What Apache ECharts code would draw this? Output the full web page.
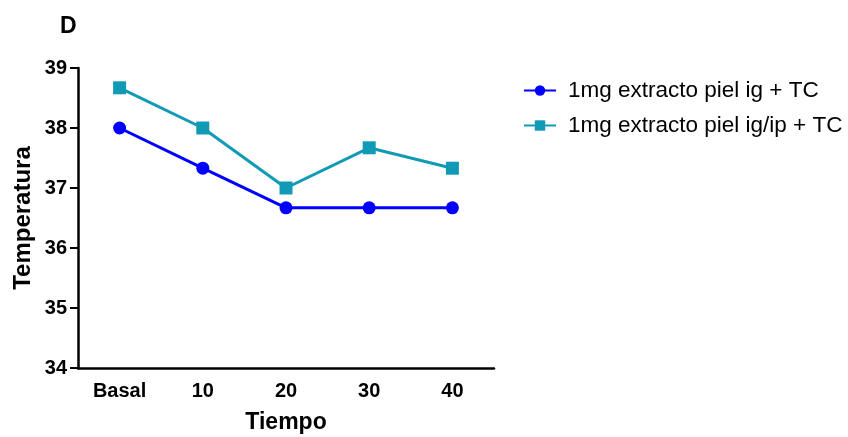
<!DOCTYPE html>
<html><head><meta charset="utf-8">
<script src="https://cdn.jsdelivr.net/npm/echarts@6/dist/echarts.min.js"></script>
<style>html,body{margin:0;padding:0;background:#fff}#c{width:848px;height:437px}</style>
</head><body><div id="c"></div>
<script>
const categories = ['Basal', '10', '20', '30', '40'];
const seriesNames = ['1mg extracto piel ig + TC', '1mg extracto piel ig/ip + TC'];
const igValues = [38.0, 37.33, 36.67, 36.67, 36.67];
const igipValues = [38.67, 38.0, 37.0, 37.67, 37.33];
const yTicks = [34, 35, 36, 37, 38, 39];

const chart = echarts.init(document.getElementById('c'));
const font = 'Liberation Sans, Arial, sans-serif';
chart.setOption({
  animation: false,
  title: { text: 'D', left: 55, top: 10, textStyle: { fontFamily: font, fontSize: 23, fontWeight: 'bold', color: '#000' } },
  grid: { left: 78, right: 354, top: 68, bottom: 69, containLabel: false, outerBoundsMode: 'none' },
  legend: {
    orient: 'vertical', left: 518, top: 74, itemWidth: 32, itemHeight: 13, itemGap: 12,
    textStyle: { fontFamily: font, fontSize: 22.5, color: '#000', padding: [0, 0, 0, 7] },
    data: seriesNames
  },
  xAxis: {
    type: 'category', data: categories, boundaryGap: true,
    name: 'Tiempo', nameLocation: 'middle', nameGap: 43,
    nameTextStyle: { fontFamily: font, fontSize: 23, fontWeight: 'bold', color: '#000' },
    axisLine: { lineStyle: { color: '#000', width: 2.5 } },
    axisTick: { alignWithLabel: true, length: 7, lineStyle: { color: '#000', width: 2 } },
    axisLabel: { fontFamily: font, fontSize: 20, fontWeight: 'bold', color: '#000', margin: 13 }
  },
  yAxis: {
    type: 'value', min: yTicks[0], max: yTicks[yTicks.length - 1], interval: 1,
    name: 'Temperatura', nameLocation: 'middle', nameGap: 43,
    nameTextStyle: { fontFamily: font, fontSize: 24, fontWeight: 'bold', color: '#000' },
    axisLine: { show: true, lineStyle: { color: '#000', width: 2.5 } },
    axisTick: { show: true, length: 8, lineStyle: { color: '#000', width: 2 } },
    axisLabel: { fontFamily: font, fontSize: 20, fontWeight: 'bold', color: '#000', margin: 11 },
    splitLine: { show: false }
  },
  series: [
    { name: seriesNames[0], type: 'line', data: igValues, symbol: 'circle', symbolSize: 13,
      lineStyle: { color: '#0000ff', width: 3 }, itemStyle: { color: '#0000ff' } },
    { name: seriesNames[1], type: 'line', data: igipValues, symbol: 'rect', symbolSize: 13,
      lineStyle: { color: '#119ab5', width: 3 }, itemStyle: { color: '#119ab5' } }
  ]
});
</script></body></html>
